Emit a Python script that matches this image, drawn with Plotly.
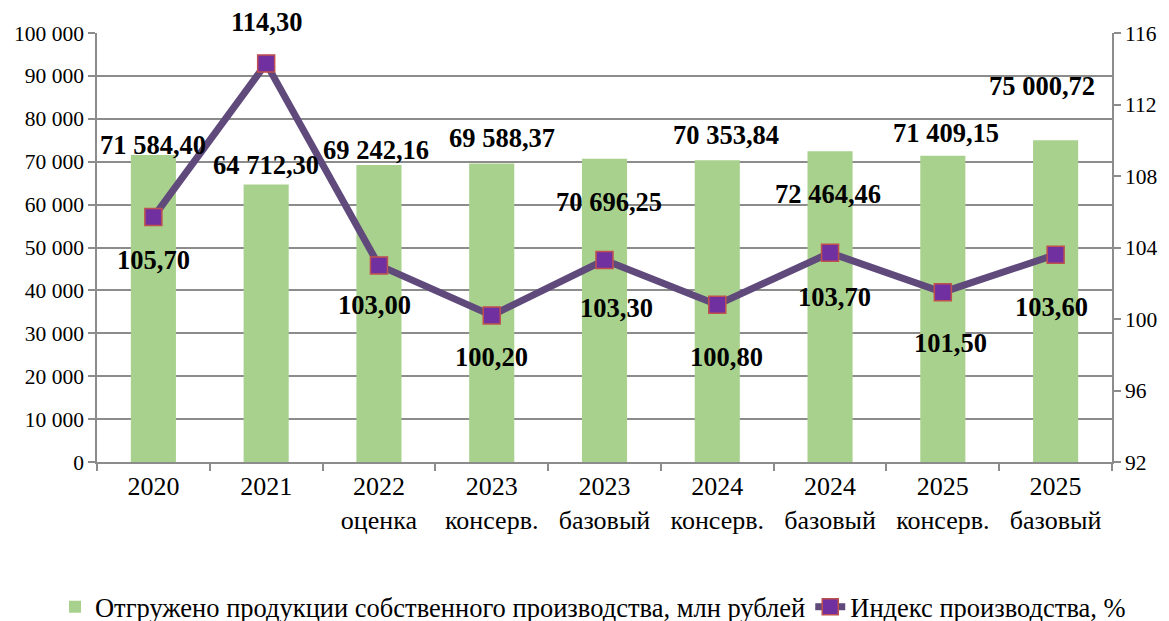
import plotly.graph_objects as go

categories = ["2020", "2021", "2022<br>оценка", "2023<br>консерв.", "2023<br>базовый",
              "2024<br>консерв.", "2024<br>базовый", "2025<br>консерв.", "2025<br>базовый"]
shipped = [71584.40, 64712.30, 69242.16, 69588.37, 70696.25, 70353.84, 72464.46, 71409.15, 75000.72]
index_vals = [105.70, 114.30, 103.00, 100.20, 103.30, 100.80, 103.70, 101.50, 103.60]

bar_name = "Отгружено продукции собственного производства, млн рублей"
line_name = "Индекс производства, %"

# label offsets in pixels (layout only)
bar_lbl_dx = [0, 0, -3, 10, 4, 9, -2, 3, -14]
bar_lbl_dy = [10, 19, 15, 25, -43, 25, -43, 23, 54]
line_lbl_dx = [0, 0, -4, 0, 12, 9, 4, 8, -4]
line_lbl_dy = [-43, 41, -40, -42, -48, -52, -44, -51, -52]

FONT = "Liberation Serif"
GRID = "#8c8c8c"

pos = list(range(len(categories)))
boundaries = [p - 0.5 for p in pos] + [pos[-1] + 0.5]


def fmt(v):
    return f"{v:,.2f}".replace(",", " ").replace(".", ",")


fig = go.Figure()
fig.add_trace(go.Bar(
    x=pos, y=shipped, name=bar_name,
    marker=dict(color="#A9D18E", line=dict(width=0)),
    width=0.4, yaxis="y",
))
fig.add_trace(go.Scatter(
    x=pos, y=index_vals, name=line_name, yaxis="y2",
    mode="lines+markers",
    line=dict(color="#604A7B", width=7),
    marker=dict(symbol="square", size=17, color="#7030A0",
                line=dict(color="#C0504D", width=1.5)),
))

annotations = []
for i, p in enumerate(pos):
    annotations.append(dict(
        x=p, y=shipped[i], xref="x", yref="y", text=f"<b>{fmt(shipped[i])}</b>",
        showarrow=False, xanchor="center", yanchor="middle",
        xshift=bar_lbl_dx[i], yshift=bar_lbl_dy[i],
        font=dict(family=FONT, size=26.5, color="black"),
    ))
    annotations.append(dict(
        x=p, y=index_vals[i], xref="x", yref="y2", text=f"<b>{fmt(index_vals[i])}</b>",
        showarrow=False, xanchor="center", yanchor="middle",
        xshift=line_lbl_dx[i], yshift=line_lbl_dy[i],
        font=dict(family=FONT, size=26.5, color="black"),
    ))

fig.update_layout(
    width=1161, height=640,
    margin=dict(l=89, r=57, t=25, b=186),
    paper_bgcolor="white", plot_bgcolor="white",
    separators=", ",
    font=dict(family=FONT, size=20, color="black"),
    showlegend=True,
    legend=dict(orientation="h", x=-0.0414, xanchor="left", y=-0.338, yanchor="middle",
                font=dict(family=FONT, size=26.5, color="black"),
                itemwidth=30, tracegroupgap=0),
    xaxis=dict(
        type="linear", range=[-0.5, len(categories) - 0.5], automargin=False,
        tickmode="array", tickvals=pos, ticktext=categories, tickangle=0,
        showgrid=False, showline=True, linecolor=GRID, linewidth=1.5,
        ticks="", zeroline=False,
        minor=dict(tickmode="array", tickvals=boundaries, ticks="outside", ticklen=7,
                   tickcolor=GRID, tickwidth=1.5, showgrid=False),
        tickfont=dict(family=FONT, size=26, color="black"),
    ),
    yaxis=dict(
        range=[0, 100000], dtick=10000, tickformat=",d", automargin=False,
        showgrid=True, gridcolor=GRID, gridwidth=1.5,
        showline=True, linecolor=GRID, linewidth=1.5,
        ticks="outside", ticklen=7, tickcolor=GRID, tickwidth=1.5,
        tickfont=dict(family=FONT, size=21.5, color="black"),
        zeroline=False,
    ),
    yaxis2=dict(
        overlaying="y", side="right", range=[92, 116], dtick=4, automargin=False,
        showgrid=False, showline=True, linecolor=GRID, linewidth=1.5,
        ticks="outside", ticklen=7, tickcolor=GRID, tickwidth=1.5,
        tickfont=dict(family=FONT, size=21.5, color="black"),
        zeroline=False,
    ),
    annotations=annotations,
)

fig.write_html("out.html")
